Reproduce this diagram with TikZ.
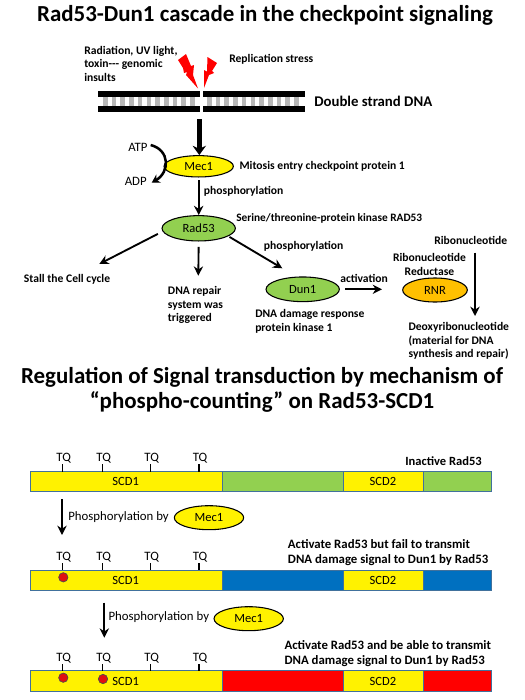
\documentclass[tikz,border=0pt]{standalone}
\usepackage{fontspec}
\setmainfont{Carlito}
\usetikzlibrary{positioning,arrows.meta,shapes.geometric}
\definecolor{barblue}{HTML}{0070C0}
\definecolor{bargreen}{HTML}{92D050}
\definecolor{kinorange}{HTML}{FFC000}
\definecolor{barline}{HTML}{41719C}
\definecolor{dotred}{HTML}{E01010}

\begin{document}
\begin{tikzpicture}[
  x=0.75pt, y=-0.75pt,
  txt/.style={font=\fontsize{8.7}{10.2}\selectfont\bfseries, align=left, anchor=west, inner sep=0pt},
  note/.style={font=\fontsize{9.6}{11.2}\selectfont\bfseries, align=left, anchor=west, inner sep=0pt},
  plain/.style={font=\fontsize{9.6}{11}\selectfont, align=left, anchor=west, inner sep=0pt},
  head/.style={font=\fontsize{17.2}{19}\selectfont\bfseries, align=center, inner sep=0pt},
  enz/.style={ellipse, draw, line width=0.8pt, inner sep=0pt,
    minimum width=52pt, minimum height=16pt, font=\fontsize{9.4}{10}\selectfont},
  seg/.style={rectangle, draw=barline, line width=0.7pt, outer sep=0pt, inner sep=0pt,
    minimum height=15.3pt, font=\fontsize{9.4}{10}\selectfont},
  tq/.style={font=\fontsize{9.6}{10}\selectfont, inner sep=0pt},
  dot/.style={circle, draw=black!70, fill=dotred, line width=0.5pt, minimum size=7pt, inner sep=0pt},
  arr/.style={-{Stealth[length=7pt,width=7pt]}, line width=1.4pt},
  bigarr/.style={-{Stealth[length=7pt,width=10pt]}, line width=3.4pt},
  bolt/.style={fill=red, draw=none}
]
\useasboundingbox (0,0) rectangle (525,700);

% titles
\node[head] (title) at (265,15) {Rad53-Dun1 cascade in the checkpoint signaling};
\node[head] (title2) at (262,390) {Regulation of Signal transduction by mechanism of\\``phospho-counting'' on Rad53-SCD1};

% DNA
\foreach \x in {103,111.7,...,197}
  \fill[black!28] (\x,96.7) rectangle ++(4.6,9.4);
\foreach \x in {207,215.7,...,300}
  \fill[black!28] (\x,96.7) rectangle ++(4.6,9.4);
\fill (98,90.7) rectangle (200,96.7);
\fill (98,106) rectangle (200,112.3);
\fill (202.7,90.7) rectangle (304.5,96.7);
\fill (202.7,106) rectangle (304.5,112.3);
\fill[bolt] (178,60) -- (186,54) -- (191,66) -- (194,65) -- (193,75) -- (198,88.5) -- (186,75) -- (187,72) -- (184,73) -- (183,68) -- cycle;
\fill[bolt] (207.5,57) -- (217,63) -- (212,71) -- (214,73) -- (209,75) -- (204,88) -- (204,70) -- (207,71.5) -- cycle;

\node[txt] (stress) at (84,63.7) {Radiation, UV light,\\toxin-{}-{}- genomic\\insults};
\node[txt] (repl) at (229,59.3) {Replication stress};
\node[txt, font=\fontsize{11.1}{13}\selectfont\bfseries] (dna) at (314,101.3) {Double strand DNA};

% upper cascade
\node[enz, fill=yellow] (mec1) at (198.7,166.3) {Mec1};
\node[enz, fill=bargreen, minimum width=55pt, minimum height=19pt] (rad53) at (198.7,228.3) {Rad53};
\node[enz, fill=bargreen, minimum width=55pt, minimum height=18.5pt] (dun1) at (302.7,289.3) {Dun1};
\node[enz, fill=kinorange, minimum width=48.5pt, minimum height=18pt] (rnr) at (435,290) {RNR};

\node[plain] (atp) at (128,147) {ATP};
\node[plain] (adp) at (124.5,181) {ADP};
\node[txt] (mitosis) at (239.3,166) {Mitosis entry checkpoint protein 1};
\node[txt] (ph1) at (203.7,191) {phosphorylation};
\node[txt, font=\fontsize{8.5}{10}\selectfont\bfseries] (serine) at (236,218.7) {Serine/threonine-protein kinase RAD53};
\node[txt] (ph2) at (263.7,246.7) {phosphorylation};
\node[txt] (stall) at (23.7,279) {Stall the Cell cycle};
\node[txt] (repair) at (167.7,305) {DNA repair\\system was\\triggered};
\node[txt] (dunname) at (255,321.5) {DNA damage response\\protein kinase 1};
\node[txt] (activ) at (340,278.7) {activation};
\node[txt, align=center, anchor=center] (rnrname) at (429.5,264.5) {Ribonucleotide\\Reductase};
\node[txt] (ribo) at (434,240) {Ribonucleotide};
\node[txt] (deoxy) at (408.3,341) {Deoxyribonucleotide\\(material for DNA\\synthesis and repair)};

\coordinate (dnagap) at (199.3,119);
\coordinate (atpstart) at (150.7,145);
\coordinate (adptip) at (151.7,182.7);
\coordinate (stalltip) at (99.3,264);
\coordinate (repairtip) at (198.3,275.7);
\coordinate (dun1tip) at (282.3,268.3);
\coordinate (rnrtip) at (382,289.3);
\coordinate (ribostart) at (475,252.7);
\coordinate (deoxytip) at (475,316);

\draw[bigarr] (dnagap) -- (dnagap |- mec1.north);
\draw[arr, shorten <=2pt, shorten >=0pt] (mec1.south) -- (rad53.north);
\draw[arr, shorten <=4pt] (rad53.185) -- (stalltip);
\draw[arr, shorten <=4pt] (rad53.south) -- (repairtip);
\draw[arr, shorten <=1pt] (rad53.345) -- (dun1tip);
\draw[arr, shorten <=4pt] (dun1.east) -- (rnrtip);
\draw[arr] (ribostart) -- (deoxytip);
\draw[-{Stealth[length=6pt,width=7pt]}, line width=1.9pt] (atpstart) .. controls (170,150) and (170,172) .. (adptip);

% phospho-counting bars
\foreach \row/\ybar/\ytq/\col in {a/481.5/458.3/bargreen, b/580.3/557.3/barblue, c/681/658.3/red} {
  \node[seg, fill=yellow, minimum width=144pt, anchor=west] (scdone\row) at (30.3,\ybar) {};
  \node[seg, fill=\col, minimum width=90.5pt, right=0pt of scdone\row] (linka\row) {};
  \node[seg, fill=yellow, minimum width=60pt, right=0pt of linka\row] (scdtwo\row) {SCD2};
  \node[seg, fill=\col, minimum width=51.5pt, right=0pt of scdtwo\row] (linkb\row) {};
  \node[tq, font=\fontsize{9.4}{10}\selectfont] (lbl\row) at (125.7,\ybar) {SCD1};
  \foreach \n/\x in {1/62.7,2/102.7,3/150.7,4/199} {
    \node[tq] (tq\row\n) at (\x+1,\ytq) {TQ};
    \draw[line width=0.8pt] (\x,\ytq+6) -- (\x,\ybar-10);
  }
}
\node[dot] (pb1) at (63.3,577.3) {};
\node[dot] (pc1) at (63.3,677.7) {};
\node[dot] (pc2) at (103,679) {};

\node[txt, font=\fontsize{9.4}{10}\selectfont\bfseries] (inactive) at (405,460.7) {Inactive Rad53};
\node[note] (failtxt) at (287.7,552.5) {Activate Rad53 but fail to transmit\\DNA damage signal to Dun1 by Rad53};
\node[note] (abletxt) at (284.3,653.5) {Activate Rad53 and be able to transmit\\DNA damage signal to Dun1 by Rad53};

\coordinate (sa) at (62,499.3);
\coordinate (ta) at (62,535);
\coordinate (sb) at (104.3,602.7);
\coordinate (tb) at (104.3,637.7);
\draw[arr] (sa) -- (ta);
\draw[arr] (sb) -- (tb);
\node[plain] (phby1) at (68,517) {Phosphorylation by};
\node[enz, fill=yellow, minimum height=18pt] (mecb) at (209,517.7) {Mec1};
\node[plain] (phby2) at (108.3,617.3) {Phosphorylation by};
\node[enz, fill=yellow, minimum height=18pt] (mecc) at (248.7,618.7) {Mec1};
\end{tikzpicture}
\end{document}
